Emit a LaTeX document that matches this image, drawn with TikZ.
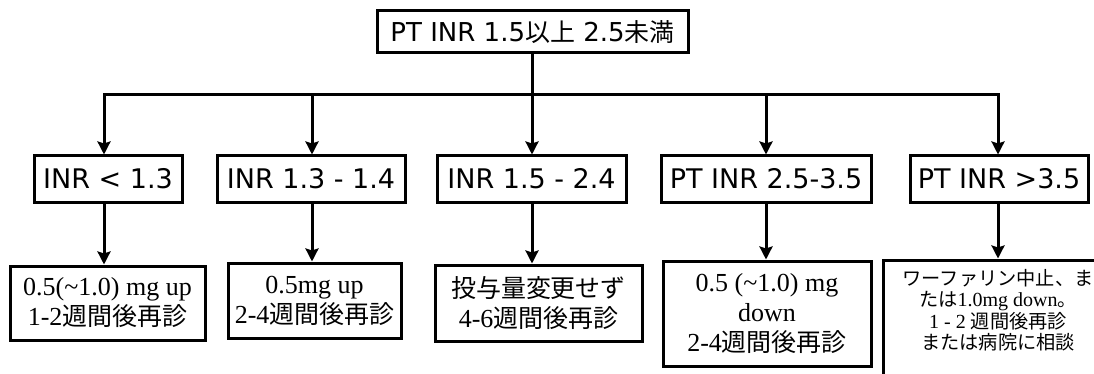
\documentclass[tikz,border=0pt]{standalone}
\usepackage{fontspec}
\setmainfont{Liberation Serif}
\newfontfamily\sansjp{DejaVu Sans}
\newfontfamily\cjkjp[Scale=0.96]{Noto Sans CJK JP}
\newcommand{\JP}[1]{{\cjkjp #1}}
\usetikzlibrary{arrows.meta}
\begin{document}
\begin{tikzpicture}[x=1pt,y=-1pt,line width=3pt,
  arr/.style={-{Stealth[length=13pt,width=13pt,inset=2pt]}},
  topbox/.style={draw,line width=3pt,inner sep=0pt,minimum width=311pt,minimum height=42pt,
    font=\sansjp\fontsize{26}{30}\selectfont},
  midbox/.style={draw,line width=3pt,inner sep=0pt,minimum height=46pt,
    font=\sansjp\fontsize{27}{32}\selectfont},
  lowbox/.style={draw,line width=3pt,inner sep=0pt,align=center,
    font=\fontsize{26}{30}\selectfont},
  smalltext/.style={inner sep=0pt,align=center,font=\fontsize{20}{21.5}\selectfont}]
\useasboundingbox (0,0) rectangle (1094,374);
\clip (0,0) rectangle (1094,374);
\fill[white] (0,0) rectangle (1094,374);
% top
\node[topbox] (top) at (532.5,32) {PT INR 1.5\JP{以上} 2.5\JP{未満}};
% middle row
\node[midbox,minimum width=148pt] (m1) at (108,179) {INR < 1.3};
\node[midbox,minimum width=188pt] (m2) at (311,179) {INR 1.3 - 1.4};
\node[midbox,minimum width=189pt] (m3) at (531.5,179) {INR 1.5 - 2.4};
\node[midbox,minimum width=210pt] (m4) at (766,179) {PT INR 2.5-3.5};
\node[midbox,minimum width=178pt] (m5) at (999,179) {PT INR >3.5};
% bottom row
\node[lowbox,minimum width=195pt,minimum height=74pt] (b1) at (107.5,303)
  {0.5(\textasciitilde1.0) mg up\\1-2\JP{週間後再診}};
\node[lowbox,minimum width=173pt,minimum height=75pt] (b2) at (314.5,300.5)
  {0.5mg up\\2-4\JP{週間後再診}};
\node[lowbox,minimum width=207pt,minimum height=76pt] (b3) at (538.5,303)
  {\JP{投与量変更せず}\\4-6\JP{週間後再診}};
\node[lowbox,minimum width=208pt,minimum height=105pt] (b4) at (767,313.5)
  {0.5 (\textasciitilde1.0) mg\\down\\2-4\JP{週間後再診}};
\node[draw,line width=3pt,inner sep=0pt,minimum width=230pt,minimum height=130pt] (b5) at (998,325) {};
\node[smalltext,anchor=north] (t5) at ([yshift=-9pt]b5.north)
  {\JP{ワーファリン中止、ま}\\\JP{たは}1.0mg down\JP{。}\\1 - 2 \JP{週間後再診}\\\JP{または病院に相談}};
% bus coordinates
\coordinate (a1) at (104,95);
\coordinate (a2) at (312,95);
\coordinate (a3) at (532,95);
\coordinate (a4) at (766,95);
\coordinate (a5) at (998,95);
% connectors
\draw (top.south) -- (top.south |- a3);
\draw[arr] (a2) -- (a1) -- (a1 |- m1.north);
\draw[arr] (a4) -- (a5) -- (a5 |- m5.north);
\draw (a2) -- (a4);
\draw[arr] (a2) -- (a2 |- m2.north);
\draw[arr] (a3) -- (a3 |- m3.north);
\draw[arr] (a4) -- (a4 |- m4.north);
\draw[arr] (m1.south -| a1) -- (b1.north -| a1);
\draw[arr] (m2.south -| a2) -- (b2.north -| a2);
\draw[arr] (m3.south -| a3) -- (b3.north -| a3);
\draw[arr] (m4.south -| a4) -- (b4.north -| a4);
\draw[arr] (m5.south -| a5) -- (b5.north -| a5);
\end{tikzpicture}
\end{document}
